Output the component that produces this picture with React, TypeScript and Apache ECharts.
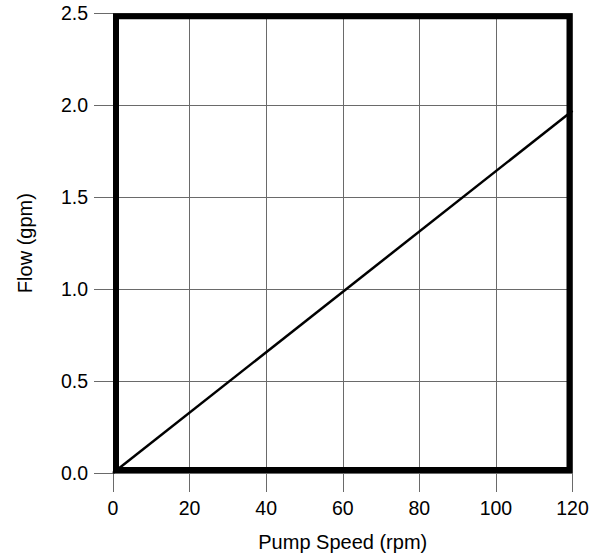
import React, { useEffect, useRef } from "react";
import * as echarts from "echarts";

const xTicks = [0, 20, 40, 60, 80, 100, 120];
const yTicks = [0, 0.5, 1.0, 1.5, 2.0, 2.5];
const speedRpm = [0, 120];
const flowGpm = [0, 1.97];

export default function App() {
  const ref = useRef<HTMLDivElement>(null);
  useEffect(() => {
    document.body.style.margin = "0";
    if (!ref.current) return;
    const chart = echarts.init(ref.current, null, { renderer: "svg" });
    const font = "'Liberation Sans', Arial, Helvetica, sans-serif";
    const gridColor = "#6a6a6a";
    chart.setOption({
      animation: false,
      backgroundColor: "#fff",
      grid: { left: 113, right: 27.5, top: 13.3, bottom: 87, outerBoundsMode: "none", containLabel: false },
      xAxis: {
        type: "value",
        min: xTicks[0],
        max: xTicks[xTicks.length - 1],
        interval: 20,
        name: "Pump Speed (rpm)",
        nameLocation: "middle",
        nameGap: 59,
        nameTextStyle: { fontFamily: font, fontSize: 20, color: "#000" },
        axisLine: { show: false },
        axisTick: { show: true, length: 19, lineStyle: { color: gridColor, width: 1 } },
        axisLabel: { margin: 25, fontFamily: font, fontSize: 19.5, color: "#000" },
        splitLine: { show: true, lineStyle: { color: gridColor, width: 1 } },
      },
      yAxis: {
        type: "value",
        min: yTicks[0],
        max: yTicks[yTicks.length - 1],
        interval: 0.5,
        name: "Flow (gpm)",
        nameLocation: "middle",
        nameGap: 78,
        nameTextStyle: { fontFamily: font, fontSize: 20, color: "#000" },
        axisLine: { show: false },
        axisTick: { show: true, length: 19, lineStyle: { color: gridColor, width: 1 } },
        axisLabel: {
          margin: 25,
          fontFamily: font,
          fontSize: 19.5,
          color: "#000",
          formatter: (v: number) => v.toFixed(1),
        },
        splitLine: { show: true, lineStyle: { color: gridColor, width: 1 } },
      },
      series: [
        {
          type: "line",
          data: speedRpm.map((x, i) => [x, flowGpm[i]]),
          showSymbol: false,
          symbol: "none",
          lineStyle: { color: "#000", width: 2.5 },
          z: 3,
        },
      ],
    });
    const p0 = chart.convertToPixel({ gridIndex: 0 }, [xTicks[0], yTicks[0]]) as number[];
    const p1 = chart.convertToPixel({ gridIndex: 0 }, [xTicks[xTicks.length - 1], yTicks[yTicks.length - 1]]) as number[];
    const bw = 6;
    chart.setOption({
      graphic: [
        {
          type: "rect",
          z: 100,
          shape: {
            x: p0[0] + bw / 2,
            y: p1[1] + bw / 2,
            width: p1[0] - p0[0] - bw,
            height: p0[1] - p1[1] - bw,
          },
          style: { fill: "none", stroke: "#000", lineWidth: bw },
        },
      ],
    });
    return () => chart.dispose();
  }, []);
  return <div ref={ref} style={{ width: 600, height: 560 }} />;
}
